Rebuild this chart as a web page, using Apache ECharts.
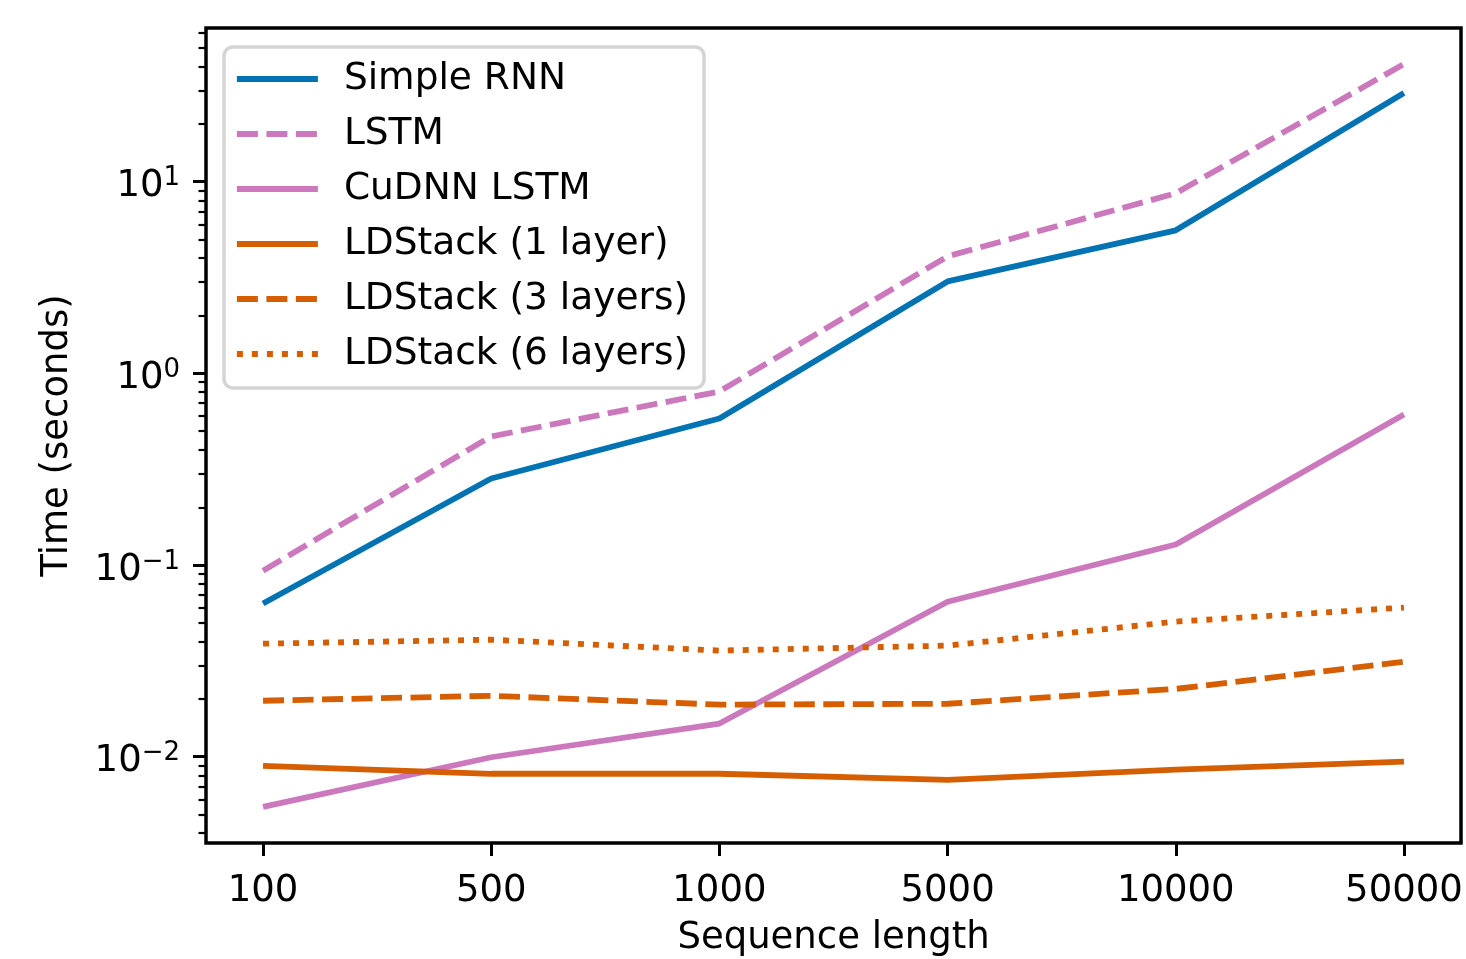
<!DOCTYPE html>
<html>
<head>
<meta charset="utf-8">
<script src="https://cdn.jsdelivr.net/npm/echarts@6/dist/echarts.min.js"></script>
<style>html,body{margin:0;padding:0;background:#fff}#c{width:1466px;height:959px}</style>
</head>
<body>
<div id="c"></div>
<script>
// ---- data ----
var categories = ['100', '500', '1000', '5000', '10000', '50000'];
var simpleRNN = [0.063, 0.283, 0.582, 3.02, 5.58, 29.0];
var lstm      = [0.0935, 0.469, 0.805, 4.08, 8.71, 41.1];
var cudnnLSTM = [0.00548, 0.00994, 0.0149, 0.0644, 0.128, 0.611];
var ldstack1  = [0.00897, 0.00815, 0.00815, 0.00758, 0.00856, 0.00942];
var ldstack3  = [0.0196, 0.0208, 0.0187, 0.0189, 0.0226, 0.0313];
var ldstack6  = [0.0389, 0.0408, 0.0358, 0.0380, 0.0507, 0.0600];
var yMajorTicks = [0.01, 0.1, 1, 10];
var yMinorTicks = [0.004, 0.005, 0.006, 0.007, 0.008, 0.009,
  0.02, 0.03, 0.04, 0.05, 0.06, 0.07, 0.08, 0.09,
  0.2, 0.3, 0.4, 0.5, 0.6, 0.7, 0.8, 0.9,
  2, 3, 4, 5, 6, 7, 8, 9, 20, 30, 40, 50, 60];
var yMin = 0.003548, yMax = 63.4;

var FONT = 'DejaVu Sans';
var BLUE = '#0173B2', PINK = '#CC78BC', ORANGE = '#D55E00';
var LW = 5.8;

function pts(arr) { return arr.map(function (v, i) { return [i, v]; }); }
function mk(name, arr, color, type) {
  return {
    name: name, type: 'line', data: pts(arr), symbol: 'none',
    xAxisIndex: 0, yAxisIndex: 0,
    lineStyle: { color: color, width: LW, type: type, cap: 'butt' },
    itemStyle: { color: color },
    emphasis: { disabled: true }, animation: false
  };
}
var DASH = [21, 8.5], DOT = [6, 9];
var series = [
  mk('Simple RNN', simpleRNN, BLUE, 'solid'),
  mk('LSTM', lstm, PINK, DASH),
  mk('CuDNN LSTM', cudnnLSTM, PINK, 'solid'),
  mk('LDStack (1 layer)', ldstack1, ORANGE, 'solid'),
  mk('LDStack (3 layers)', ldstack3, ORANGE, DASH),
  mk('LDStack (6 layers)', ldstack6, ORANGE, DOT)
];

function supLabel(v) {
  var e = Math.round(Math.log(v) / Math.LN10);
  var s = e < 0 ? '\u2212' + (-e) : String(e);
  return '{b|10}{s|' + s + '}';
}

var chart = echarts.init(document.getElementById('c'), null, { renderer: 'canvas' });
chart.setOption({
  animation: false,
  backgroundColor: '#fff',
  textStyle: { fontFamily: FONT },
  grid: {
    left: 206, top: 28, right: 5, bottom: 116,
    outerBoundsMode: 'none', containLabel: false,
    show: true, borderColor: '#000', borderWidth: 3.5, backgroundColor: 'transparent', z: 10
  },
  legend: {
    orient: 'vertical', align: 'left',
    left: 224, top: 47,
    padding: [12, 16, 14, 10],
    itemWidth: 81, itemHeight: 40, itemGap: 15,
    backgroundColor: 'rgba(255,255,255,0.8)',
    borderColor: 'rgba(204,204,204,0.85)', borderWidth: 3.5, borderRadius: 9,
    textStyle: { fontFamily: FONT, fontSize: 37.5, color: '#000', lineHeight: 40, padding: [0, 0, 0, 21] },
    lineStyle: { width: LW },
    itemStyle: { opacity: 0 },
    data: series.map(function (s) { return s.name; }),
    selectedMode: false
  },
  xAxis: [{
    type: 'value', min: -0.25, max: 5.25,
    name: 'Sequence length', nameLocation: 'middle', nameGap: 77,
    nameTextStyle: { fontFamily: FONT, fontSize: 37, color: '#000' },
    axisLine: { show: false, onZero: false },
    splitLine: { show: false },
    axisTick: { show: true, customValues: [0, 1, 2, 3, 4, 5], length: 13, lineStyle: { color: '#000', width: 3 } },
    axisLabel: {
      customValues: [0, 1, 2, 3, 4, 5], margin: 30,
      fontFamily: FONT, fontSize: 37, color: '#000',
      formatter: function (v) { return categories[Math.round(v)]; }
    }
  }],
  yAxis: [{
    type: 'log', logBase: 10, min: yMin, max: yMax, position: 'left',
    name: 'Time (seconds)', nameLocation: 'middle', nameGap: 130,
    nameTextStyle: { fontFamily: FONT, fontSize: 37, color: '#000' },
    axisLine: { show: false, onZero: false },
    splitLine: { show: false },
    minorTick: { show: false },
    axisTick: { show: true, customValues: yMajorTicks, length: 13, lineStyle: { color: '#000', width: 3 } },
    axisLabel: {
      customValues: yMajorTicks, margin: 26,
      padding: [10, 0, 0, 0],
      formatter: supLabel,
      rich: {
        b: { fontFamily: FONT, fontSize: 37, color: '#000' },
        s: { fontFamily: FONT, fontSize: 26, color: '#000', padding: [0, 0, 16, 0] }
      }
    }
  }, {
    type: 'log', logBase: 10, min: yMin, max: yMax, position: 'left',
    axisLine: { show: false, onZero: false },
    splitLine: { show: false },
    axisLabel: { show: false },
    axisTick: { show: true, customValues: yMinorTicks, length: 7.5, lineStyle: { color: '#000', width: 2.2 } }
  }],
  series: series
});
</script>
</body>
</html>
